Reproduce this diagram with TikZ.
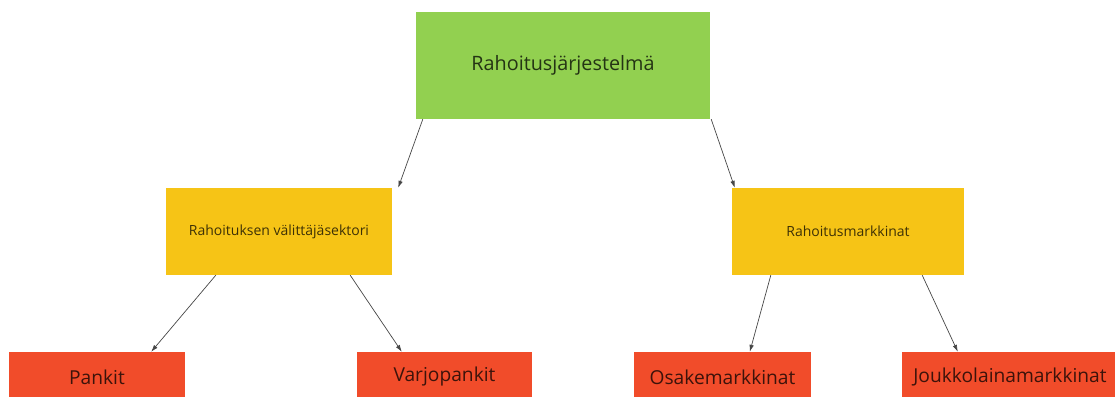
\documentclass[tikz,border=0pt]{standalone}
\usepackage{fontspec}
\setmainfont{Open Sans}
\usetikzlibrary{arrows.meta}
\tikzset{>={Latex[length=7pt,width=4.5pt]}}
\definecolor{mygreen}{RGB}{146,208,80}
\definecolor{myyellow}{RGB}{246,196,22}
\definecolor{myred}{RGB}{241,76,42}
\definecolor{myline}{RGB}{70,70,70}
\tikzset{
  box/.style={rectangle,inner sep=0pt,text=black,text opacity=0.75},
  topbox/.style={box,fill=mygreen,minimum width=294pt,minimum height=107pt,font=\fontsize{19.8}{23}\selectfont},
  midbox/.style={box,fill=myyellow,minimum height=87pt,font=\fontsize{14}{17}\selectfont},
  lowbox/.style={box,fill=myred,minimum height=50pt,font=\fontsize{19.2}{23}\selectfont},
  link/.style={->,draw=myline,line width=0.7pt}
}

\begin{document}
\begin{tikzpicture}[x=1pt,y=-1pt]

  % page
  \useasboundingbox (0,0) rectangle (1115,396);
  \clip (0,0) rectangle (1115,396);

  % boxes
  \node[topbox] (sys) at (563,65.5) {Rahoitusjärjestelmä};
  \node[midbox,minimum width=226pt] (vali) at (279,231.5) {Rahoituksen välittäjäsektori};
  \node[midbox,minimum width=232pt] (mark) at (848,231.5) {Rahoitusmarkkinat};
  \node[lowbox,minimum width=176pt] (pankit) at (97,377) {Pankit};
  \node[lowbox,minimum width=175pt] (varjo) at (444.5,377) {Varjopankit};
  \node[lowbox,minimum width=177pt] (osake) at (722.5,377) {Osakemarkkinat};
  \node[lowbox,minimum width=216pt] (jouk) at (1010,377) {Joukkolainamarkkinat};

  % arrows
  \draw[link] ([xshift=7pt]sys.south west) -- ([xshift=6pt]vali.north east);
  \draw[link] ([xshift=1pt]sys.south east) -- ([xshift=3pt]mark.north west);
  \draw[link] ([xshift=50pt]vali.south west) -- ([xshift=-34pt]pankit.north east);
  \draw[link] ([xshift=-42pt]vali.south east) -- ([xshift=45pt]varjo.north west);
  \draw[link] ([xshift=39pt]mark.south west) -- ([xshift=116pt]osake.north west);
  \draw[link] ([xshift=-42pt]mark.south east) -- ([xshift=56pt]jouk.north west);

\end{tikzpicture}
\end{document}
